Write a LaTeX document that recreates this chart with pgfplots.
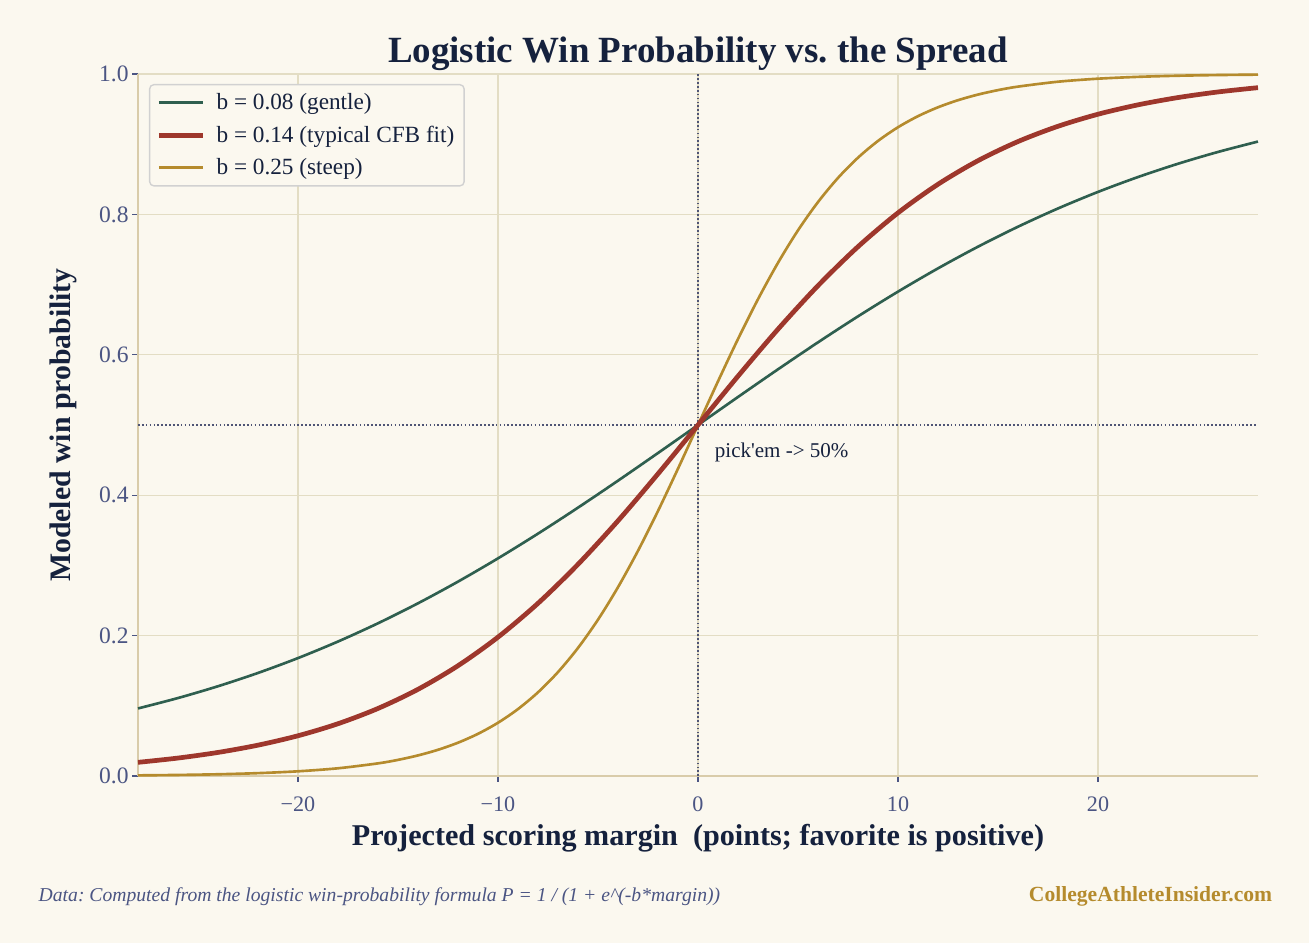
\documentclass[border=0pt]{standalone}
\usepackage{pgfplots}
\pgfplotsset{compat=1.18}
\usepackage{fontspec}
\setmainfont{Liberation Serif}
\newfontfamily\rawserif{Liberation Serif}
\definecolor{bg}{HTML}{FBF8EF}
\definecolor{gridc}{HTML}{E3DDC4}
\definecolor{spine}{HTML}{D9CCAA}
\definecolor{navy}{HTML}{15213D}
\definecolor{tickc}{HTML}{4B5583}
\definecolor{cgreen}{HTML}{2F5F4F}
\definecolor{cred}{HTML}{9E372C}
\definecolor{cgold}{HTML}{B58B2D}
\definecolor{refc}{HTML}{4F5575}
\frenchspacing
\begin{document}
\begin{tikzpicture}
\path[use as bounding box, fill=bg] (-99.36bp,-120.24bp) rectangle ++(942.48bp,678.96bp);
\begin{axis}[
  scale only axis, width=806.4bp, height=505.44bp,
  xmin=-28, xmax=28, ymin=0, ymax=1,
  clip=false,
  axis x line*=bottom, axis y line*=left,
  axis line style={draw=spine, line width=1.4bp, -},
  xtick={-20,-10,0,10,20},
  xticklabels={−20,−10,0,10,20},
  ytick={0,0.2,0.4,0.6,0.8,1.0},
  yticklabels={0.0,0.2,0.4,0.6,0.8,1.0},
  /pgf/number format/assume math mode=true,
  ticklabel style={font=\fontsize{16}{19}\selectfont, text=tickc},
  xticklabel style={yshift=-7bp},
  yticklabel style={font=\fontsize{17}{19}\selectfont, xshift=1bp},
  tick style={draw=tickc, line width=0.8bp},
  major tick length=4.3bp, tick align=outside,
  grid=major, major grid style={draw=gridc, line width=1bp},
  legend style={at={(rel axis cs:0,1)}, anchor=north west, xshift=7.9bp, yshift=-7.2bp,
    draw=black!18, fill=bg, rounded corners=3bp, line width=1bp,
    font=\fontsize{16.8}{19}\selectfont, text=navy, row sep=6.2bp, inner xsep=5bp, inner ysep=4.5bp},
  legend cell align=left,
  legend image code/.code={\draw[#1] (0bp,0bp) -- (32bp,0bp); \path[draw=none] (39.5bp,0bp);},
]
\addplot[refc, dash pattern=on 1.2bp off 1.6bp, line width=1bp, forget plot] coordinates {(0,0) (0,1)};
\addplot[refc, dash pattern=on 1.2bp off 1.6bp, line width=1bp, forget plot] coordinates {(-28,0.5) (28,0.5)};

\addlegendimage{cgreen, line width=1.9bp}
\addlegendentry{b = 0.08 (gentle)}
\addlegendimage{cred, line width=3.4bp}
\addlegendentry{b = 0.14 (typical CFB fit)}
\addlegendimage{cgold, line width=1.9bp}
\addlegendentry{b = 0.25 (steep)}

\addplot[cgreen, line width=1.9bp, smooth, forget plot] coordinates {
(-28,0.09622) (-26,0.11106) (-24,0.12786) (-22,0.14679) (-20,0.16798) (-18,0.19155)
(-16,0.21755) (-14,0.24601) (-12,0.27688) (-10,0.31003) (-8,0.34524) (-6,0.38225)
(-4,0.42068) (-2,0.46009) (0,0.5) (2,0.53991) (4,0.57932) (6,0.61775) (8,0.65476)
(10,0.68997) (12,0.72312) (14,0.75399) (16,0.78245) (18,0.80845) (20,0.83202)
(22,0.85321) (24,0.87214) (26,0.88894) (28,0.90378)};

\addplot[cgold, line width=1.9bp, smooth, forget plot] coordinates {
(-28,0.00091) (-26,0.00150) (-24,0.00247) (-22,0.00407) (-20,0.00669) (-18,0.01099)
(-16,0.01799) (-15,0.02298) (-14,0.02931) (-13,0.03733) (-12,0.04743) (-11,0.06009)
(-10,0.07586) (-9,0.09535) (-8,0.11920) (-7,0.14805)
(-6,0.18243) (-5,0.22270) (-4,0.26894) (-3,0.32082) (-2,0.37754) (-1,0.43782)
(0,0.5) (1,0.56218) (2,0.62246) (3,0.67918) (4,0.73106) (5,0.77730) (6,0.81757)
(7,0.85195) (8,0.88080) (9,0.90465) (10,0.92414) (11,0.93991) (12,0.95257)
(13,0.96267) (14,0.97069) (15,0.97702) (16,0.98201)
(18,0.98901) (20,0.99331) (22,0.99593) (24,0.99753) (26,0.99850) (28,0.99909)};

\addplot[cred, line width=3.4bp, smooth, forget plot] coordinates {
(-28,0.01945) (-26,0.02558) (-24,0.03357) (-22,0.04394) (-20,0.05732) (-18,0.07447)
(-16,0.09622) (-14,0.12347) (-12,0.15709) (-10,0.19782) (-8,0.24601) (-6,0.30154)
(-4,0.36355) (-2,0.43046) (0,0.5) (2,0.56954) (4,0.63645) (6,0.69846) (8,0.75399)
(10,0.80218) (12,0.84291) (14,0.87653) (16,0.90378) (18,0.92553) (20,0.94268)
(22,0.95606) (24,0.96643) (26,0.97442) (28,0.98055)};

\node[anchor=base west, text=navy, font=\rawserif\fontsize{15.2}{18}\selectfont] at (axis cs:0.6,0.453) {pick'em -> 50\%};

\node[anchor=base, text=navy, font=\bfseries\fontsize{26.7}{30}\selectfont] at (rel axis cs:0.5,1) [yshift=8.6bp] {Logistic Win Probability vs. the Spread};
\node[anchor=center, text=navy, font=\bfseries\fontsize{21.8}{25}\selectfont] at (rel axis cs:0.5,0) [yshift=-45bp] {Projected scoring margin\ \ (points; favorite is positive)};
\node[anchor=center, text=navy, font=\bfseries\fontsize{21.5}{25}\selectfont] at (rel axis cs:0,0.5) [xshift=-54bp, rotate=90] {Modeled win probability};
\node[anchor=base west, text=tickc, font=\itshape\fontsize{14.2}{17}\selectfont] at (rel axis cs:0,0) [xshift=-75bp, yshift=-90.7bp] {Data: Computed from the logistic win-probability formula P = 1 / (1 + e\^{}(-b*margin))};
\node[anchor=base east, text=cgold, font=\bfseries\fontsize{15.6}{18}\selectfont] at (rel axis cs:1,0) [xshift=13.7bp, yshift=-90.7bp] {CollegeAthleteInsider.com};
\end{axis}
\end{tikzpicture}
\end{document}
